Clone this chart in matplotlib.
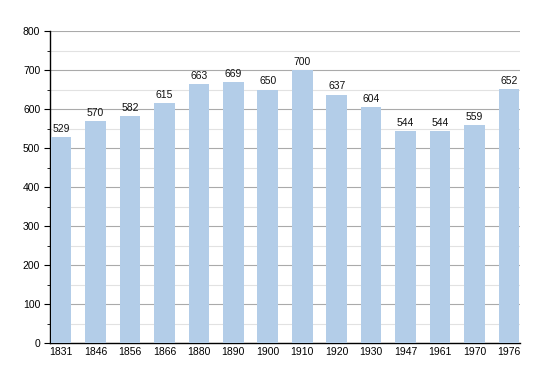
import matplotlib
matplotlib.use("Agg")
import matplotlib.pyplot as plt
from matplotlib.ticker import MultipleLocator

years = ["1831", "1846", "1856", "1866", "1880", "1890", "1900", "1910",
         "1920", "1930", "1947", "1961", "1970", "1976"]
population = [529, 570, 582, 615, 663, 669, 650, 700, 637, 604, 544, 544, 559, 652]

plt.rcParams['font.family'] = ['Liberation Sans', 'DejaVu Sans']

fig = plt.figure(figsize=(5.5, 3.73), dpi=100)
ax = fig.add_axes([50/550, 1-343/373, 470/550, 312/373])

x = list(range(len(years)))
ax.bar(x, population, width=0.6, color='#b3cde8', zorder=3)
for xi, v in zip(x, population):
    ax.text(xi, v + 8, str(v), ha='center', va='bottom', fontsize=7.5, color='#111111', zorder=4)

ax.set_xlim(-0.32, len(years) - 1 + 0.32)
ax.set_ylim(0, 800)
ax.yaxis.set_major_locator(MultipleLocator(100))
ax.yaxis.set_minor_locator(MultipleLocator(50))
ax.grid(axis='y', which='major', color='#aaaaaa', linewidth=0.8, zorder=1)
ax.grid(axis='y', which='minor', color='#e2e2e2', linewidth=0.8, zorder=1)
ax.set_xticks(x)
ax.set_xticklabels(years)
ax.tick_params(axis='x', length=0, labelsize=7.5, pad=3)
ax.tick_params(axis='y', which='major', length=4, labelsize=7.5, pad=3)
ax.tick_params(axis='y', which='minor', length=2)
for s in ['top', 'right']:
    ax.spines[s].set_visible(False)
ax.spines['left'].set_linewidth(1.0)
ax.spines['bottom'].set_linewidth(1.0)

fig.savefig("out.png", dpi=100)
